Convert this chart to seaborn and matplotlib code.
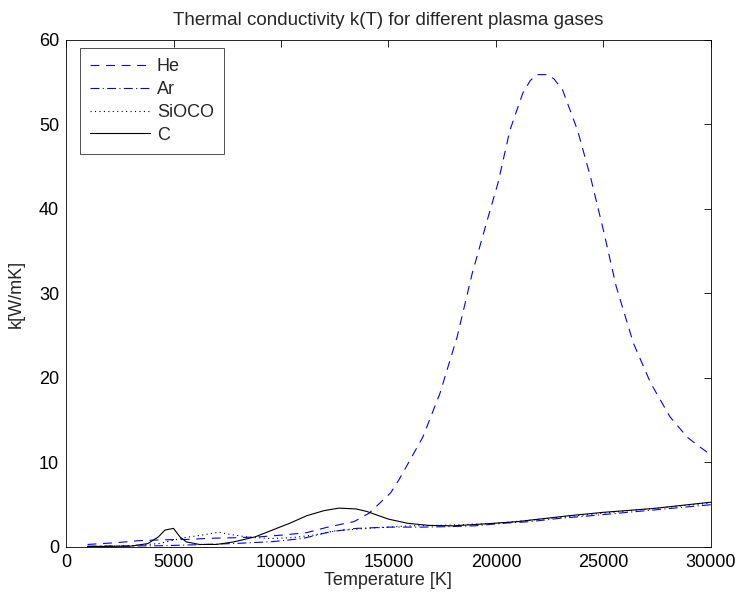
import numpy as np
import pandas as pd
import matplotlib
matplotlib.use("Agg")
import matplotlib.pyplot as plt
import seaborn as sns

# Data
he_T = [1000, 2300, 3400, 4500, 5700, 6700, 7900, 9000, 10100, 11200, 12100, 13000, 13400, 14100,
        15100, 15500, 16600, 17400, 18200, 18900, 19600, 20100, 20650, 21250, 21600, 21900, 22400,
        22700, 23100, 23800, 24400, 25000, 25600, 26400, 27200, 28100, 28900, 29400, 30000]
he_k = [0.3, 0.5, 0.75, 0.85, 0.9, 1.03, 1.1, 1.2, 1.42, 1.7, 2.3, 2.8, 3.0, 4.0,
        6.4, 8.0, 13.0, 18.2, 24.9, 32.4, 38.7, 43.1, 49.3, 53.7, 55.2, 55.9, 55.9,
        55.4, 54.1, 49.3, 43.8, 37.5, 30.8, 24.1, 19.4, 15.4, 13.0, 12.0, 10.9]

ar_T = [1000, 3000, 4500, 6500, 8000, 9600, 11000, 12300, 13500, 15000, 16500, 17700, 19000,
        20300, 21600, 23000, 24200, 27000, 30000]
ar_k = [0.1, 0.12, 0.15, 0.3, 0.43, 0.63, 1.0, 1.8, 2.2, 2.35, 2.35, 2.4, 2.5,
        2.8, 3.0, 3.4, 3.65, 4.3, 5.0]

si_T = [1000, 3000, 4300, 5000, 5500, 6300, 7100, 7600, 8500, 9500, 10500, 11500, 12500, 14000,
        16000, 18000, 20000, 25000, 30000]
si_k = [0.05, 0.15, 0.4, 0.8, 1.1, 1.4, 1.75, 1.5, 1.15, 1.0, 1.1, 1.4, 1.9, 2.2,
        2.5, 2.6, 2.8, 4.0, 5.2]

c_T = [1000, 3000, 3800, 4300, 4600, 5000, 5300, 5600, 6200, 7000, 7800, 8800, 9600, 10400,
       11200, 12000, 12700, 13500, 14000, 15000, 15900, 16900, 18000, 19600, 21000, 23400,
       25000, 27300, 30000]
c_k = [0.05, 0.1, 0.4, 1.2, 2.0, 2.2, 1.2, 0.6, 0.3, 0.3, 0.6, 1.2, 2.0, 2.8,
       3.7, 4.3, 4.6, 4.5, 4.2, 3.3, 2.8, 2.55, 2.5, 2.75, 3.0, 3.7,
       4.1, 4.55, 5.3]

labels = ["He", "Ar", "SiOCO", "C"]

sns.set_style("white")
plt.rcParams['font.family'] = ['Liberation Sans', 'DejaVu Sans']

fig = plt.figure(figsize=(7.42, 6.04), dpi=100)
ax = fig.add_axes([0.089, 0.0944, 0.869, 0.8394])

series = [(he_T, he_k, labels[0], "#0000ff", (0, (8, 6))),
          (ar_T, ar_k, labels[1], "#0000ff", (0, (8, 3, 1, 3))),
          (si_T, si_k, labels[2], "black", (0, (1, 3))),
          (c_T, c_k, labels[3], "black", "-")]

for T, k, name, col, ls in series:
    df = pd.DataFrame({"T": T, "k": k})
    sns.lineplot(data=df, x="T", y="k", ax=ax, color=col, linestyle=ls,
                 linewidth=0.8, label=name)

ax.set_xlim(0, 30000)
ax.set_ylim(0, 60)
ax.set_xticks([0, 5000, 10000, 15000, 20000, 25000, 30000])
ax.set_yticks([0, 10, 20, 30, 40, 50, 60])
ax.tick_params(direction="in", length=5, labelsize=13, top=True, right=True,
               colors="black", width=0.6, pad=5)
for s in ax.spines.values():
    s.set_visible(True)
    s.set_color("black")
    s.set_linewidth(0.6)

ax.set_xlabel("Temperature [K]", fontsize=13, labelpad=1)
ax.set_ylabel("k[W/mK]", fontsize=13, labelpad=10)
ax.set_title("Thermal conductivity k(T) for different plasma gases", fontsize=13.5, pad=11)

leg = ax.legend(loc="upper left", bbox_to_anchor=(14 / 645, 1 - 8 / 507),
                fontsize=13, frameon=True, fancybox=False,
                borderaxespad=0.0, handlelength=3.3, labelspacing=0.33,
                borderpad=0.55, handletextpad=0.4)
leg.get_frame().set_edgecolor("black")
leg.get_frame().set_linewidth(0.6)

fig.savefig("out.png", dpi=100)
